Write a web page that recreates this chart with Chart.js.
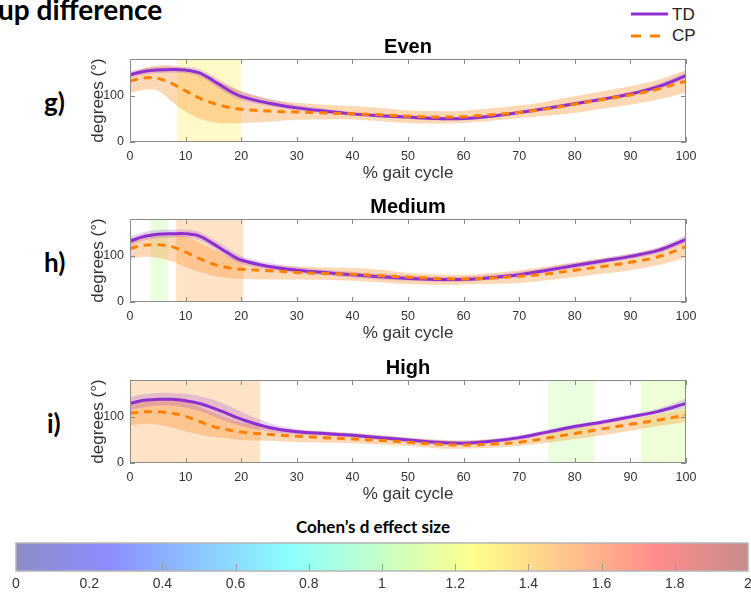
<!DOCTYPE html>
<html>
<head>
<meta charset="utf-8">
<script src="https://cdn.jsdelivr.net/npm/chart.js@4.4.0/dist/chart.umd.min.js"></script>
<style>
  html, body { margin: 0; padding: 0; width: 751px; height: 593px; overflow: hidden; background: #fff; }
  canvas { position: absolute; left: 0; }
  .abs { position: absolute; white-space: nowrap; }
  .bold { font-family: Lato, "Open Sans", sans-serif; font-weight: 700; color: #000; }
  .leg { font-family: "Liberation Sans", Arial, sans-serif; font-size: 17px; color: #222; line-height: 1; }
</style>
</head>
<body>
<div class="abs bold" style="left:-2px;top:-8px;font-size:28px;">up difference</div>

<svg class="abs" style="left:625px;top:2px" width="50" height="46">
  <line x1="6" y1="12" x2="43" y2="12" stroke="#8e30d0" stroke-width="3"/>
  <line x1="6" y1="34" x2="43" y2="34" stroke="#ff8000" stroke-width="3" stroke-dasharray="10,9"/>
</svg>
<div class="abs leg" style="left:672px;top:6px;">TD</div>
<div class="abs leg" style="left:672px;top:27px;">CP</div>

<div class="abs bold" style="left:44px;top:86px;font-size:26px;">g)</div>
<div class="abs bold" style="left:44px;top:246px;font-size:26px;">h)</div>
<div class="abs bold" style="left:47px;top:407px;font-size:26px;">i)</div>

<canvas id="even" width="751" height="160" style="top:30px"></canvas>
<canvas id="medium" width="751" height="160" style="top:190px"></canvas>
<canvas id="high" width="751" height="160" style="top:351px"></canvas>

<div class="abs bold" style="left:373px;top:516px;font-size:17px;transform:translateX(-50%);">Cohen’s d effect size</div>
<canvas id="cbar" width="800" height="60" style="top:535px"></canvas>

<script>
// --- data ---
const pct = [0, 2.5, 5, 7.5, 10, 12.5, 15, 17.5, 20, 25, 30, 35, 40, 45, 50, 55, 60, 65, 70, 75, 80, 85, 90, 95, 100];
const xTicks = [0, 10, 20, 30, 40, 50, 60, 70, 80, 90, 100];
const yTicks = [0, 100];
const cbTicks = [0, 0.2, 0.4, 0.6, 0.8, 1, 1.2, 1.4, 1.6, 1.8, 2];

// Even
const evenTD   = [146, 153, 156, 157, 156, 150, 133, 114, 99, 84, 74, 67, 61, 57, 54, 51, 51, 56, 64, 73, 83, 93, 104, 120, 144];
const evenTDUp = [153, 160, 163, 164, 163, 158, 143, 125, 110, 93, 80, 72, 65, 61, 58, 55, 55, 60, 68, 77, 87, 97, 108, 126, 152];
const evenTDLo = [139, 146, 149, 150, 149, 142, 124, 105, 91, 78, 69, 62, 57, 53, 50, 47, 47, 52, 60, 69, 79, 89, 100, 114, 136];
const evenCP   = [132, 139, 138, 127, 111, 95, 84, 76, 71, 67, 65, 63, 61, 59, 56, 54, 55, 59, 64, 72, 82, 92, 102, 115, 132];
const evenCPUp = [150, 160, 166, 166, 158, 148, 136, 122, 110, 93, 85, 81, 78, 74, 69, 67, 68, 73, 79, 88, 99, 110, 121, 135, 156];
const evenCPLo = [107, 113, 111, 88, 66, 51, 43, 40, 41, 44, 48, 49, 49, 45, 41, 40, 41, 46, 52, 57, 63, 72, 81, 92, 107];
const evenSpans = [[8.5, 20, 1.3]]; // [start %, end %, Cohen's d]

// Medium
const medTD   = [132, 142, 147, 148, 148, 143, 126, 107, 91, 77, 69, 64, 59, 55, 51, 49, 49, 53, 59, 69, 79, 89, 99, 112, 136];
const medTDUp = [142, 152, 156, 157, 157, 152, 136, 117, 100, 85, 76, 70, 65, 61, 57, 55, 55, 59, 65, 75, 85, 95, 105, 119, 145];
const medTDLo = [123, 133, 138, 140, 140, 134, 117, 98, 83, 70, 63, 58, 53, 49, 46, 44, 44, 48, 54, 63, 73, 83, 93, 105, 128];
const medCP   = [116, 123, 124, 120, 108, 94, 82, 75, 71, 68, 64, 62, 60, 57, 54, 51, 50, 52, 56, 61, 69, 77, 86, 98, 120];
const medCPUp = [136, 146, 150, 148, 142, 129, 114, 100, 89, 80, 77, 75, 74, 70, 63, 60, 59, 63, 69, 77, 86, 95, 104, 117, 139];
const medCPLo = [93, 98, 96, 88, 76, 65, 57, 52, 50, 49, 49, 48, 46, 43, 39, 37, 38, 39, 41, 47, 54, 61, 69, 80, 96];
const medSpans = [[3.7, 6.9, 1.05], [8.3, 20.4, 1.5]];

// High
const highTD   = [129, 136, 138, 138, 135, 129, 119, 107, 95, 77, 68, 64, 60, 55, 50, 45, 43, 47, 55, 67, 79, 89, 100, 112, 129];
const highTDUp = [143, 149, 152, 152, 150, 145, 137, 125, 111, 87, 74, 69, 65, 60, 55, 50, 48, 52, 60, 72, 84, 94, 105, 118, 140];
const highTDLo = [115, 121, 124, 124, 120, 113, 102, 90, 80, 68, 62, 59, 55, 50, 45, 40, 39, 43, 50, 62, 74, 84, 95, 106, 118];
const highCP   = [108, 111, 111, 108, 101, 90, 79, 72, 67, 62, 58, 55, 52, 49, 45, 41, 39, 41, 45, 54, 64, 74, 84, 93, 104];
const highCPUp = [133, 138, 140, 138, 133, 122, 109, 97, 88, 78, 72, 68, 65, 60, 55, 51, 49, 52, 57, 66, 76, 86, 96, 105, 116];
const highCPLo = [81, 85, 83, 77, 69, 62, 57, 53, 50, 48, 45, 44, 43, 40, 37, 32, 31, 33, 37, 44, 52, 60, 70, 80, 89];
const highSpans = [[0, 23.4, 1.5], [75.2, 83.5, 1.05], [91.9, 100, 1.1]];

// --- styling ---
const TD_COLOR = '#8e30d0';
const CP_COLOR = '#ff8000';
const TD_BAND = 'rgba(142,48,208,0.22)';
const CP_BAND = 'rgba(249,138,29,0.33)';
const AXIS_COLOR = '#8a8a8a';
const TEXT_COLOR = '#333';
const TENSION = 0.35;

Chart.defaults.font.family = '"Liberation Sans", Arial, sans-serif';

// MATLAB-like jet colormap, t in [0,1]
function jet(t) {
  const c = v => Math.max(0, Math.min(1, v));
  return [c(Math.min(4 * t - 1.5, -4 * t + 4.5)), c(Math.min(4 * t - 0.5, -4 * t + 3.5)), c(Math.min(4 * t + 0.5, -4 * t + 2.5))];
}
function rgba(rgb, a) {
  return `rgba(${Math.round(rgb[0] * 255)},${Math.round(rgb[1] * 255)},${Math.round(rgb[2] * 255)},${a})`;
}

// effect-size shading under the curves + boxed axes with inward ticks
const boxPlugin = {
  id: 'box',
  beforeDatasetsDraw(chart, args, opts) {
    const { ctx, chartArea: a, scales: { x } } = chart;
    ctx.save();
    (opts.spans || []).forEach(([s, e, d]) => {
      const x0 = x.getPixelForValue(s), x1 = x.getPixelForValue(e);
      ctx.fillStyle = rgba(jet(d / 2), 0.22);
      ctx.fillRect(x0, a.top, x1 - x0, a.bottom - a.top);
    });
    ctx.restore();
  },
  afterDatasetsDraw(chart) {
    const { ctx, chartArea: a, scales: { x, y } } = chart;
    ctx.save();
    ctx.strokeStyle = AXIS_COLOR;
    ctx.lineWidth = 1;
    ctx.strokeRect(a.left + 0.5, a.top + 0.5, a.right - a.left - 1, a.bottom - a.top - 1);
    ctx.beginPath();
    xTicks.forEach(v => {
      const px = Math.round(x.getPixelForValue(v)) + 0.5;
      ctx.moveTo(px, a.bottom); ctx.lineTo(px, a.bottom - 5);
      ctx.moveTo(px, a.top); ctx.lineTo(px, a.top + 5);
    });
    yTicks.forEach(v => {
      const py = Math.round(y.getPixelForValue(v)) + 0.5;
      ctx.moveTo(a.left, py); ctx.lineTo(a.left + 5, py);
      ctx.moveTo(a.right, py); ctx.lineTo(a.right - 5, py);
    });
    ctx.stroke();
    ctx.restore();
  }
};

function panel(id, title, td, tdUp, tdLo, cp, cpUp, cpLo, spans) {
  const pts = arr => pct.map((x, i) => ({ x, y: arr[i] }));
  const band = (arr, fill, bg) => ({
    data: pts(arr), borderColor: 'transparent', borderWidth: 0, pointRadius: 0,
    fill, backgroundColor: bg, tension: TENSION
  });
  new Chart(document.getElementById(id), {
    type: 'line',
    data: {
      datasets: [
        { label: 'CP', data: pts(cp), borderColor: CP_COLOR, borderWidth: 3, borderDash: [8, 6],
          pointRadius: 0, fill: false, tension: TENSION },
        { label: 'TD', data: pts(td), borderColor: TD_COLOR, borderWidth: 3,
          pointRadius: 0, fill: false, tension: TENSION },
        band(tdUp, '+1', TD_BAND),
        band(tdLo, false, 'transparent'),
        band(cpUp, '+1', CP_BAND),
        band(cpLo, false, 'transparent')
      ]
    },
    options: {
      responsive: false,
      animation: false,
      layout: { padding: { left: 88, right: 65, top: 0, bottom: 0 } },
      plugins: {
        legend: { display: false },
        tooltip: { enabled: false },
        title: {
          display: true, text: title, fullSize: false, color: '#000',
          font: { size: 20, weight: 'bold' }, padding: { top: 5, bottom: 0 }
        },
        box: { spans }
      },
      scales: {
        x: {
          type: 'linear', min: 0, max: 100,
          afterBuildTicks: s => { s.ticks = xTicks.map(v => ({ value: v })); },
          afterFit: s => { s.height = 48; },
          grid: { display: false, drawTicks: false },
          border: { display: false },
          ticks: { padding: 7, color: TEXT_COLOR, font: { size: 12.5 }, maxRotation: 0, autoSkip: false },
          title: { display: true, text: '% gait cycle', color: TEXT_COLOR, font: { size: 17 }, padding: { top: 0, bottom: 6 } }
        },
        y: {
          min: 0, max: 180,
          afterBuildTicks: s => { s.ticks = yTicks.map(v => ({ value: v })); },
          afterFit: s => { s.width = 42; },
          grid: { display: false, drawTicks: false },
          border: { display: false },
          ticks: { padding: 6, color: TEXT_COLOR, font: { size: 12.5 } },
          title: { display: true, text: 'degrees (°)', color: TEXT_COLOR, font: { size: 17 }, padding: { top: 0, bottom: 0 } }
        }
      }
    },
    plugins: [boxPlugin]
  });
}

panel('even', 'Even', evenTD, evenTDUp, evenTDLo, evenCP, evenCPUp, evenCPLo, evenSpans);
panel('medium', 'Medium', medTD, medTDUp, medTDLo, medCP, medCPUp, medCPLo, medSpans);
panel('high', 'High', highTD, highTDUp, highTDLo, highCP, highCPUp, highCPLo, highSpans);

// --- colour bar (Cohen's d, 0..2) ---
const cbStops = [0, 0.125, 0.375, 0.625, 0.875, 1];
const cbarPlugin = {
  id: 'cbarFill',
  beforeDatasetsDraw(chart) {
    const { ctx, chartArea: a, scales: { x } } = chart;
    ctx.save();
    const g = ctx.createLinearGradient(x.getPixelForValue(0), 0, x.getPixelForValue(2), 0);
    cbStops.forEach(s => g.addColorStop(s, rgba(jet(s), 0.45)));
    ctx.fillStyle = g;
    ctx.fillRect(a.left, a.top, a.right - a.left, a.bottom - a.top);
    ctx.strokeStyle = '#9a9a9a';
    ctx.lineWidth = 1;
    ctx.beginPath();
    cbTicks.slice(1, -1).forEach(v => {
      const px = Math.round(x.getPixelForValue(v)) + 0.5;
      ctx.moveTo(px, a.bottom); ctx.lineTo(px, a.bottom - 7);
    });
    ctx.stroke();
    ctx.strokeStyle = '#b5b5b5';
    ctx.lineWidth = 1.5;
    ctx.strokeRect(a.left, a.top, a.right - a.left, a.bottom - a.top);
    ctx.restore();
  }
};

new Chart(document.getElementById('cbar'), {
  type: 'scatter',
  data: { datasets: [] },
  options: {
    responsive: false,
    animation: false,
    layout: { padding: { left: 16, right: 52, top: 8, bottom: 0 } },
    plugins: { legend: { display: false }, tooltip: { enabled: false } },
    scales: {
      x: {
        type: 'linear', min: 0, max: 2,
        afterBuildTicks: s => { s.ticks = cbTicks.map(v => ({ value: v })); },
        afterFit: s => { s.height = 24; },
        grid: { display: false, drawTicks: false },
        border: { display: false },
        ticks: { padding: 5, color: TEXT_COLOR, font: { size: 14 }, maxRotation: 0, autoSkip: false,
                 callback: v => String(+v.toFixed(1)) }
      },
      y: { display: false, min: 0, max: 1 }
    }
  },
  plugins: [cbarPlugin]
});
</script>
</body>
</html>
